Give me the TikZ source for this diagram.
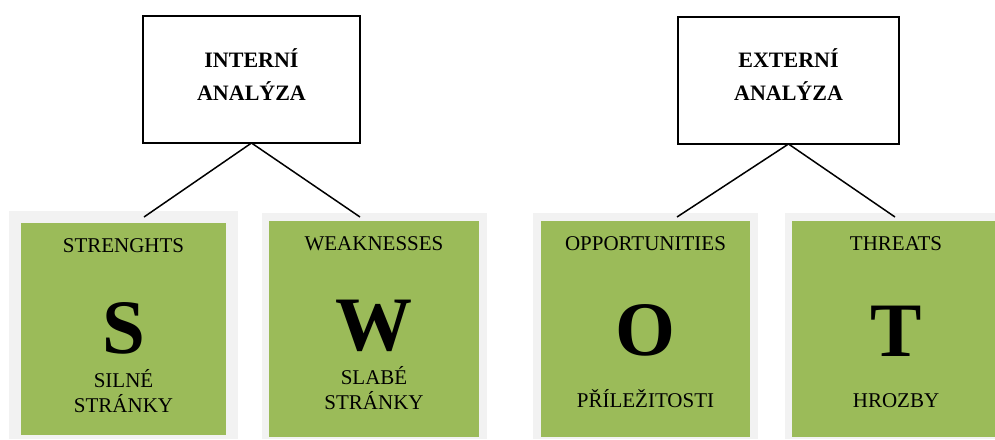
\documentclass[tikz,border=0pt]{standalone}
\usepackage{fontspec}
\setmainfont{Liberation Serif}
\definecolor{swotgreen}{HTML}{9BBB59}
\definecolor{swotgray}{HTML}{F2F2F2}
\begin{document}
\begin{tikzpicture}[x=1pt,y=-1pt,
  outerbox/.style={fill=swotgray, draw=none, inner sep=0pt, outer sep=0pt},
  greenbox/.style={fill=swotgreen, draw=none, inner sep=0pt, outer sep=0pt},
  headbox/.style={draw=black, line width=1.3pt, fill=white, inner sep=0pt, outer sep=0pt},
  headtext/.style={font=\fontsize{22}{33}\selectfont\bfseries, align=center, anchor=base, inner sep=0pt},
  smalltext/.style={font=\fontsize{21}{25}\selectfont, align=center, anchor=base, inner sep=0pt},
  bigletter/.style={font=\fontsize{77}{80}\selectfont\bfseries, anchor=base, inner sep=0pt},
  link/.style={line width=1.5pt}]
\useasboundingbox (0,0) rectangle (995,439);
% outer gray frames
\node[outerbox, minimum width=229pt, minimum height=228pt] (Sout) at (123.5,325) {};
\node[outerbox, minimum width=225pt, minimum height=226pt] (Wout) at (374.5,326) {};
\node[outerbox, minimum width=225pt, minimum height=226pt] (Oout) at (645.5,326) {};
\node[outerbox, minimum width=222pt, minimum height=226pt] (Tout) at (896,326) {};
% green boxes
\node[greenbox, minimum width=205pt, minimum height=212pt] (Sbox) at (123.5,329) {};
\node[greenbox, minimum width=210pt, minimum height=216pt] (Wbox) at (374,329) {};
\node[greenbox, minimum width=209pt, minimum height=216pt] (Obox) at (645.5,329) {};
\node[greenbox, minimum width=208pt, minimum height=216pt] (Tbox) at (896,329) {};
% head boxes
\node[headbox, minimum width=217pt, minimum height=127pt] (Ihead) at (251.5,79.5) {};
\node[headbox, minimum width=221pt, minimum height=127pt] (Ehead) at (788.5,80.5) {};
\node[headtext] (Itext) at (251.5,100) {INTERNÍ\\ANALÝZA};
\node[headtext] (Etext) at (788.5,100) {EXTERNÍ\\ANALÝZA};
% connectors
\coordinate (Send) at (144,217);
\coordinate (Wend) at (360,217);
\coordinate (Oend) at (677,217);
\coordinate (Tend) at (895,217);
\draw[link] (Ihead.south) -- (Send);
\draw[link] (Ihead.south) -- (Wend);
\draw[link] (Ehead.south) -- (Oend);
\draw[link] (Ehead.south) -- (Tend);
% texts
\node[smalltext] (Stitle) at (123.5,252) {STRENGHTS};
\node[bigletter] (Sletter) at (123.5,353) {S};
\node[smalltext] (Sczech) at (123.5,412) {SILNÉ\\STRÁNKY};
\node[smalltext] (Wtitle) at (374,250) {WEAKNESSES};
\node[bigletter] (Wletter) at (374,350) {W};
\node[smalltext] (Wczech) at (374,409) {SLABÉ\\STRÁNKY};
\node[smalltext] (Otitle) at (645.5,250) {OPPORTUNITIES};
\node[bigletter] (Oletter) at (645.5,355) {O};
\node[smalltext] (Oczech) at (645.5,407) {PŘÍLEŽITOSTI};
\node[smalltext] (Ttitle) at (896,250) {THREATS};
\node[bigletter] (Tletter) at (896,356) {T};
\node[smalltext] (Tczech) at (896,407) {HROZBY};
\end{tikzpicture}
\end{document}
